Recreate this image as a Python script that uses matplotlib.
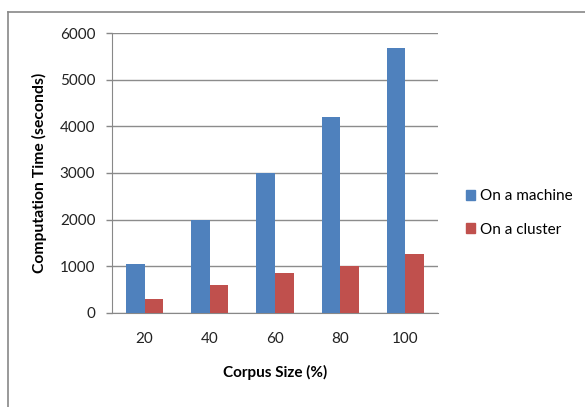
import matplotlib
matplotlib.use("Agg")
import matplotlib.pyplot as plt
from matplotlib.lines import Line2D
from matplotlib.patches import Patch
import numpy as np

categories = ["20", "40", "60", "80", "100"]
machine = [1040, 2000, 3000, 4200, 5680]
cluster = [300, 600, 850, 1010, 1270]
yticks = [0, 1000, 2000, 3000, 4000, 5000, 6000]

plt.rcParams['font.family'] = ['Lato', 'DejaVu Sans']

W, H = 585, 407
fig = plt.figure(figsize=(W/100, H/100), dpi=100)
ax = fig.add_axes([112/W, 1-313/H, (438-112)/W, (313-33)/H])

x = np.arange(len(categories))
bw = 0.285
blue = "#4F81BD"
red = "#C0504D"
ax.bar(x - bw/2, machine, bw, color=blue, zorder=3)
ax.bar(x + bw/2, cluster, bw, color=red, zorder=3)

ax.set_xlim(-0.5, len(categories) - 0.5)
ax.set_ylim(0, 6000)
ax.set_yticks(yticks)
ax.set_yticklabels([str(v) for v in yticks], fontsize=11, color="#222222")
ax.set_xticks(x)
ax.set_xticklabels(categories, fontsize=11, color="#222222")
ax.tick_params(axis='x', length=0, pad=14)
ax.tick_params(axis='y', length=4, color="#888888", width=1, pad=8)
ax.grid(axis='y', color="#8c8c8c", linewidth=1, zorder=0)
for s in ["top", "right"]:
    ax.spines[s].set_visible(False)
ax.spines["left"].set_color("#888888")
ax.spines["bottom"].set_color("#888888")

ax.set_ylabel("Computation Time (seconds)", fontsize=11.3, fontweight='bold', labelpad=9)
ax.set_xlabel("Corpus Size (%)", fontsize=11, fontweight='bold', labelpad=13)

handles = [Patch(color=blue, label="On a machine"), Patch(color=red, label="On a cluster")]
fig.legend(handles=handles, loc='center left', bbox_to_anchor=(452/W, 1-213/H),
           frameon=False, fontsize=11, handlelength=0.6, handleheight=0.6,
           handletextpad=0.3, labelspacing=1.25)

fig.add_artist(Line2D([8/W, 1], [1-12/H, 1-12/H], color="#888888", linewidth=1.2))
fig.add_artist(Line2D([8/W, 8/W], [0, 1-12/H], color="#888888", linewidth=1.2))

fig.savefig("out.png", dpi=100)
